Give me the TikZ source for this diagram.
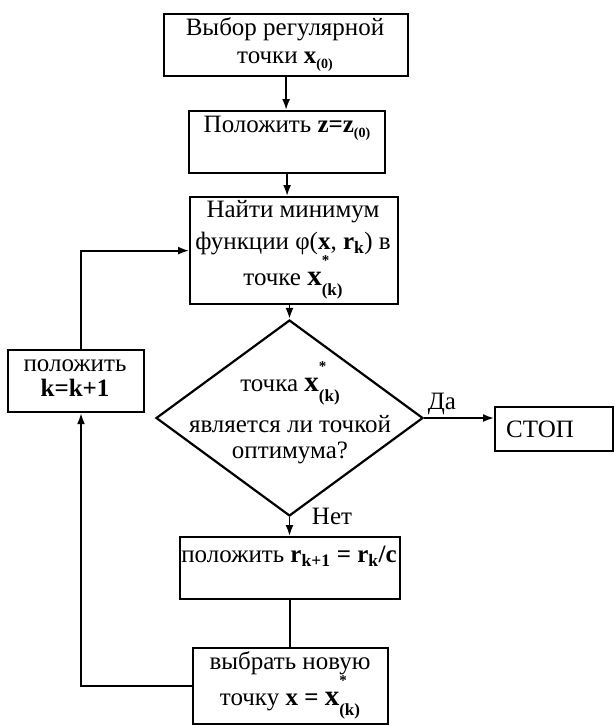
\documentclass[tikz,border=0pt]{standalone}
\usepackage{fontspec}
\setmainfont{Liberation Serif}
\usetikzlibrary{shapes.geometric,arrows.meta}
\newcommand\xkstar{\textbf{\fontsize{29}{29}\selectfont x}\makebox[0pt][l]{\raisebox{0.8em}{\fontsize{15}{15}\selectfont\bfseries *}}\raisebox{-0.4em}{\fontsize{17}{17}\selectfont\bfseries (k)}}
\newcommand\subz{\raisebox{-0.2em}{\fontsize{14}{14}\selectfont\bfseries(0)}}
\begin{document}
\begin{tikzpicture}[x=1pt,y=-1pt,
  box/.style={draw, line width=2.2pt, inner sep=0pt, anchor=north west},
  txt/.style={font=\fontsize{25}{28}\selectfont, align=center, inner sep=0pt},
  conn/.style={line width=1.8pt},
  arr/.style={conn, -{Latex[length=11pt,width=8pt]}}]
\useasboundingbox (0,0) rectangle (614,725);
% boxes
\node[box, minimum width=244pt, minimum height=62pt] (b1) at (163,13) {};
\node[box, minimum width=196pt, minimum height=62pt] (b2) at (188,110) {};
\node[box, minimum width=208pt, minimum height=107pt] (b3) at (189,196) {};
\node[draw, line width=2.2pt, diamond, minimum width=267pt, minimum height=196pt, inner sep=0pt] (d) at (289.5,418) {};
\node[box, minimum width=136pt, minimum height=62pt] (bk) at (7,349) {};
\node[box, minimum width=118pt, minimum height=44pt] (stop) at (494,406) {};
\node[box, minimum width=220pt, minimum height=62pt] (br) at (179,536) {};
\node[box, minimum width=195pt, minimum height=76pt] (b5) at (192,647) {};
% texts
\node[txt] (t1) at (285,45) {Выбор регулярной\\точки \textbf{x}\subz};
\node[txt] (t2) at (287,128) {Положить \textbf{z=z}\subz};
\node[txt, font=\fontsize{25}{32}\selectfont] (t3) at (293,250) {Найти минимум\\функции φ(\textbf{x}, \textbf{r}\textsubscript{\bfseries k}) в\\точке \xkstar};
\node[txt, font=\fontsize{25}{26}\selectfont] (t4) at (290,413) {точка \xkstar\\[9pt]является ли точкой\\оптимума?};
\node[txt, font=\fontsize{25}{25}\selectfont] (t5) at (75,378) {положить\\\textbf{k=k+1}};
\node[txt] (t6) at (540,429) {СТОП};
\node[txt] (t7) at (289,556) {положить \textbf{r}\textsubscript{\bfseries k+1} \textbf{= r}\textsubscript{\bfseries k}\textbf{/c}};
\node[txt] (t8) at (290,685) {выбрать новую\\точку \textbf{x =} \xkstar};
\node[txt] (da) at (442,404) {Да};
\node[txt] (net) at (332,516) {Нет};
% connectors
\coordinate (kx) at (81,0);
\draw[arr] (b1.south) -- (b1.south |- b2.north);
\draw[arr] (b2.south) -- (b2.south |- b3.north);
\draw[arr] (b3.south -| d.north) -- (d.north);
\draw[arr] (d.south) -- (d.south |- br.north);
\draw[arr] (d.east) -- (d.east -| stop.west);
\draw[conn] (br.south) -- (br.south |- b5.north);
\draw[arr] (b5.west) -| (kx |- bk.south);
\draw[arr] (kx |- bk.north) |- (b3.west);
\end{tikzpicture}
\end{document}
